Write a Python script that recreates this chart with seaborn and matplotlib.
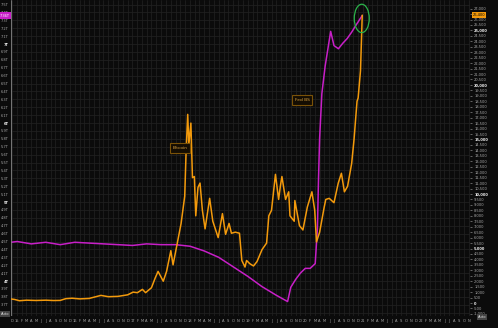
import matplotlib
matplotlib.use("Agg")
import matplotlib.pyplot as plt
import matplotlib.dates as mdates
from matplotlib.patches import Ellipse
from matplotlib.ticker import FixedLocator, FuncFormatter
import seaborn as sns
import pandas as pd
import numpy as np

# ---------------- data ----------------
btc_dates = [
    "2014-11-23", "2014-12-15", "2015-01-15", "2015-03-01", "2015-05-01", "2015-07-01",
    "2015-08-20", "2015-10-01", "2015-11-05", "2015-12-15", "2016-02-01", "2016-04-01",
    "2016-06-15", "2016-08-01", "2016-10-01", "2016-12-01", "2017-01-05", "2017-02-01",
    "2017-03-05", "2017-03-25", "2017-05-01", "2017-05-25", "2017-06-12", "2017-07-15",
    "2017-08-05", "2017-09-01", "2017-09-15", "2017-10-12", "2017-11-05", "2017-11-28",
    "2017-12-07", "2017-12-17", "2017-12-24", "2018-01-06", "2018-01-16", "2018-01-28",
    "2018-02-06", "2018-02-20", "2018-03-05", "2018-03-20", "2018-04-06", "2018-05-05",
    "2018-05-25", "2018-06-28", "2018-07-25", "2018-08-14", "2018-09-05", "2018-09-20",
    "2018-10-15", "2018-11-10", "2018-11-25", "2018-12-15", "2018-12-25", "2019-01-15",
    "2019-02-07", "2019-03-01", "2019-04-02", "2019-05-01", "2019-05-15", "2019-06-01",
    "2019-06-26", "2019-07-16", "2019-07-28", "2019-08-06", "2019-08-29", "2019-09-18",
    "2019-09-26", "2019-10-23", "2019-10-27", "2019-11-25", "2019-12-17", "2020-01-14",
    "2020-02-12", "2020-03-01", "2020-03-12", "2020-04-01", "2020-04-30", "2020-05-10",
    "2020-06-01", "2020-07-01", "2020-07-28", "2020-08-17", "2020-09-05", "2020-09-25",
    "2020-10-21", "2020-11-05", "2020-11-24", "2020-12-01", "2020-12-16", "2020-12-27",
]
btc_values = [
    370, 330, 210, 260, 235, 260,
    230, 240, 400, 440, 380, 420,
    700, 580, 610, 750, 1000, 950,
    1250, 950, 1400, 2300, 2900, 2000,
    2900, 4800, 3500, 5500, 7300, 9800,
    14000, 17300, 14500, 16500, 11500, 11600,
    8000, 10600, 11000, 8500, 6800, 9600,
    7500, 6000, 8200, 6300, 7300, 6400,
    6500, 6400, 3900, 3300, 3900, 3600,
    3400, 3800, 4900, 5500, 8000, 8500,
    11800, 9500, 10800, 11600, 9500, 10200,
    8000, 7500, 9400, 7100, 6700, 8800,
    10200, 8500, 5600, 6500, 8800, 9500,
    9600, 9200, 11000, 11900, 10200, 10700,
    12800, 15000, 18500, 18800, 21300, 26400,
]

fed_dates = [
    "2014-11-23", "2015-01-01", "2015-04-01", "2015-07-01", "2015-10-01", "2016-01-01",
    "2016-04-01", "2016-07-01", "2016-10-01", "2017-01-01", "2017-04-01", "2017-07-01",
    "2017-10-01", "2018-01-01", "2018-04-01", "2018-07-01", "2018-10-01", "2019-01-01",
    "2019-04-01", "2019-07-01", "2019-09-11", "2019-10-01", "2019-11-01", "2019-12-01",
    "2020-01-01", "2020-02-01", "2020-03-04", "2020-03-18", "2020-03-25", "2020-04-01",
    "2020-04-15", "2020-05-06", "2020-06-10", "2020-07-01", "2020-07-29", "2020-08-26",
    "2020-09-23", "2020-10-21", "2020-11-18", "2020-12-27",
]
fed_values = [
    4.49, 4.50, 4.47, 4.49, 4.46, 4.49,
    4.48, 4.47, 4.46, 4.45, 4.47, 4.46,
    4.46, 4.44, 4.38, 4.30, 4.18, 4.06,
    3.93, 3.82, 3.74, 3.92, 4.02, 4.10,
    4.16, 4.16, 4.22, 4.67, 5.30, 5.81,
    6.37, 6.72, 7.16, 6.98, 6.94, 7.01,
    7.07, 7.15, 7.24, 7.36,
]

left_ticks = [round(3.6 + 0.1 * i, 1) for i in range(40)]
right_ticks = list(range(-1000, 27001, 500))
month_letters = ["J", "F", "M", "A", "M", "J", "J", "A", "S", "O", "N", "D"]

btc = pd.DataFrame({"date": pd.to_datetime(btc_dates), "value": btc_values})
fed = pd.DataFrame({"date": pd.to_datetime(fed_dates), "value": fed_values})

# ---------------- style ----------------
sns.set_theme(style="dark")
plt.rcParams["font.family"] = ["DejaVu Sans"]
BG = "#0b0b0b"
GRID = "#222222"
ORANGE = "#f39a0c"
MAGENTA = "#c81fc8"
TXT = "#a8a8a8"

fig = plt.figure(figsize=(4.98, 3.28), dpi=100, facecolor=BG)
W, H = 498, 328
ax = fig.add_axes([11 / W, 12 / H, (470 - 11) / W, 316 / H])
ax2 = ax.twinx()
ax.set_facecolor(BG)
ax2.patch.set_visible(False)
fig.patch.set_facecolor(BG)

sns.lineplot(data=fed, x="date", y="value", ax=ax, color=MAGENTA, lw=1.1)
sns.lineplot(data=btc, x="date", y="value", ax=ax2, color=ORANGE, lw=1.1)

ax.set_xlim(pd.Timestamp("2014-11-23"), pd.Timestamp("2022-11-10"))
ax.set_ylim(3.557, 7.557)
ax2.set_ylim(-1190, 27790)

for a in (ax, ax2):
    a.set_xlabel("")
    a.set_ylabel("")
    for s in a.spines.values():
        s.set_visible(False)

# left axis
ax.yaxis.set_major_locator(FixedLocator(left_ticks))
def lfmt(v, pos):
    s = f"{v:.1f}".rstrip("0").rstrip(".")
    return s + "T"
ax.yaxis.set_major_formatter(FuncFormatter(lfmt))
ax.tick_params(axis="y", labelsize=2.6, colors=TXT, length=0, pad=1.5)
for lab, v in zip(ax.get_yticklabels(), left_ticks):
    if abs(v - round(v)) < 1e-6:
        lab.set_color("#eeeeee")
        lab.set_fontweight("bold")

# right axis
ax2.yaxis.set_major_locator(FixedLocator(right_ticks))
ax2.yaxis.set_major_formatter(FuncFormatter(lambda v, p: f"{int(v):,}"))
ax2.tick_params(axis="y", labelsize=2.6, colors=TXT, length=1.5, width=0.4, pad=1.5)
for lab, v in zip(ax2.get_yticklabels(), right_ticks):
    if v % 5000 == 0:
        lab.set_color("#eeeeee")
        lab.set_fontweight("bold")

# x axis months
ax.xaxis.set_major_locator(mdates.MonthLocator())
def xfmt(x, pos):
    d = mdates.num2date(x)
    if d.month == 1:
        return f"{d.year % 100}"
    return month_letters[d.month - 1]
ax.xaxis.set_major_formatter(FuncFormatter(xfmt))
ax.tick_params(axis="x", labelsize=2.6, colors=TXT, length=0, pad=2)

# grid (on the lower axes, under the lines)
ax.set_axisbelow(True)
ax.grid(True, axis="both", color=GRID, lw=0.5)
ax2.grid(False)
ax.axvline(ax.get_xlim()[0], color="#888888", lw=0.6)
ax.axvline(ax.get_xlim()[1], color="#888888", lw=0.6)

# annotations
box = dict(boxstyle="square,pad=0.6", fc="#140d02", ec="#7a5208", lw=0.8)
ax2.text((180 - 11) / 459, 1 - 148 / 316, "Bitcoin", transform=ax2.transAxes,
         fontsize=3.2, color="#d8a040", ha="center", va="center", bbox=box)
ax2.text((302 - 11) / 459, 1 - 100 / 316, "Fed BS", transform=ax2.transAxes,
         fontsize=3.2, color="#d8a040", ha="center", va="center", bbox=box)

last_d = btc["date"].iloc[-1]
last_b = btc["value"].iloc[-1]
ax2.add_patch(Ellipse((mdates.date2num(last_d) - 3, last_b - 300), width=95, height=2600,
                      fill=False, ec="#2bb34a", lw=0.9, zorder=10))

# current value tags
ax.annotate(f"{fed['value'].iloc[-1]:.2f}T", xy=(0, fed["value"].iloc[-1]),
            xycoords=ax.get_yaxis_transform(), xytext=(-1, 0), textcoords="offset points",
            ha="right", va="center", fontsize=2.6, color="white", annotation_clip=False,
            bbox=dict(boxstyle="square,pad=0.3", fc=MAGENTA, ec="none"))
ax2.annotate(f"{int(last_b):,}", xy=(1, last_b),
             xycoords=ax2.get_yaxis_transform(), xytext=(2, 0), textcoords="offset points",
             ha="left", va="center", fontsize=2.6, color="black", annotation_clip=False,
             bbox=dict(boxstyle="square,pad=0.3", fc=ORANGE, ec="none"))

# "Auto" boxes
fig.text(5 / W, 1 - 314 / H, "Auto", fontsize=2.6, color="#dddddd", ha="center", va="center",
         bbox=dict(boxstyle="square,pad=0.3", fc="#444444", ec="none"))
fig.text(482 / W, 1 - 317 / H, "Auto", fontsize=2.6, color="#dddddd", ha="center", va="center",
         bbox=dict(boxstyle="square,pad=0.3", fc="#444444", ec="none"))

fig.savefig("out.png", dpi=100, facecolor=BG)
